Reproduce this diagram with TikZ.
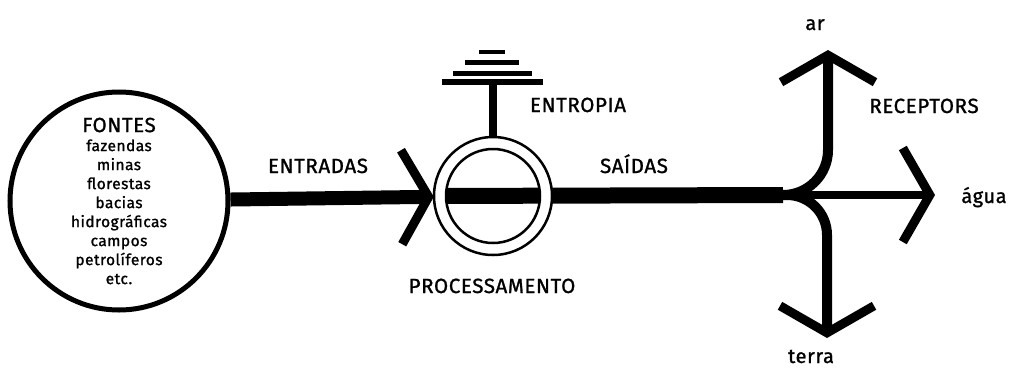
\documentclass[tikz,border=0pt]{standalone}
\usepackage{fontspec}
\setmainfont{Fira Sans}[FakeBold=1.2,LetterSpace=3]
\usetikzlibrary{arrows.meta}
\newcommand{\capsfont}{\fontsize{20.5}{22}\selectfont}
\newcommand{\lowfont}{\fontsize{15.5}{19}\selectfont}
\newcommand{\outerfont}{\fontsize{20}{22}\selectfont}
\tikzset{Chevron/.tip={Straight Barb[sharp,length=27pt,width=94pt,line width=9pt]}}

\begin{document}
\begin{tikzpicture}[x=1pt,y=-1pt,
    src_node/.style={circle,draw,line width=5pt,minimum size=218pt,inner sep=0pt,align=center,font=\lowfont},
    proc_node/.style={circle,minimum size=118pt,inner sep=0pt},
    caps_label/.style={anchor=base,font=\capsfont},
    low_label/.style={anchor=base,font=\outerfont},
    flow_line/.style={line width=14pt},
    branch_line/.style={line width=10pt},
    ring_line/.style={line width=2.5pt,fill=white,even odd rule}]
    \useasboundingbox (0,0) rectangle (1011,370);

    % fontes e processamento
    \node[src_node] (fontes) at (119,201) {{\capsfont FONTES}\\fazendas\\minas\\florestas\\bacias\\hidrográficas\\campos\\petrolíferos\\etc.};
    \node[proc_node] (proc) at (493,196) {};
    \coordinate (junc) at (783,195);
    \coordinate (ent_top) at (493,82);
    \coordinate (ar_tip) at (828,50);
    \coordinate (agua_tip) at (935,195);
    \coordinate (terra_tip) at (827,338);

    % saidas
    \draw[flow_line, line width=16pt] (proc.west) -- (junc);
    \draw[branch_line, rounded corners=45pt, -Chevron] (junc) -| (ar_tip);
    \draw[branch_line, rounded corners=40pt, -Chevron] (junc) -| (terra_tip);
    \draw[line width=8pt, -Chevron] (junc) -- (agua_tip);

    % anel e entropia
    \draw[ring_line] (proc.center) circle (59pt) (proc.center) circle (47pt);
    \draw[line width=8pt] (proc.north) -- (ent_top);
    \draw[line width=6pt] (442,82) -- (543,82);
    \draw[line width=5pt] (453,73) -- (532,73);
    \draw[line width=5pt] (465,62) -- (519,62);
    \draw[line width=4pt] (479,52) -- (505,52);

    % entradas
    \draw[flow_line, -Chevron] (fontes) -- (proc);

    % textos
    \node[caps_label] (entradas) at (318,173) {ENTRADAS};
    \node[caps_label] (saidas) at (634,173) {SAÍDAS};
    \node[caps_label] (entropia) at (578,112) {ENTROPIA};
    \node[caps_label] (processamento) at (492,293) {PROCESSAMENTO};
    \node[caps_label] (receptors) at (924,113) {RECEPTORS};
    \node[low_label] (ar) at (815,30) {ar};
    \node[low_label] (agua) at (984,203) {água};
    \node[low_label] (terra) at (811,363) {terra};
\end{tikzpicture}
\end{document}
